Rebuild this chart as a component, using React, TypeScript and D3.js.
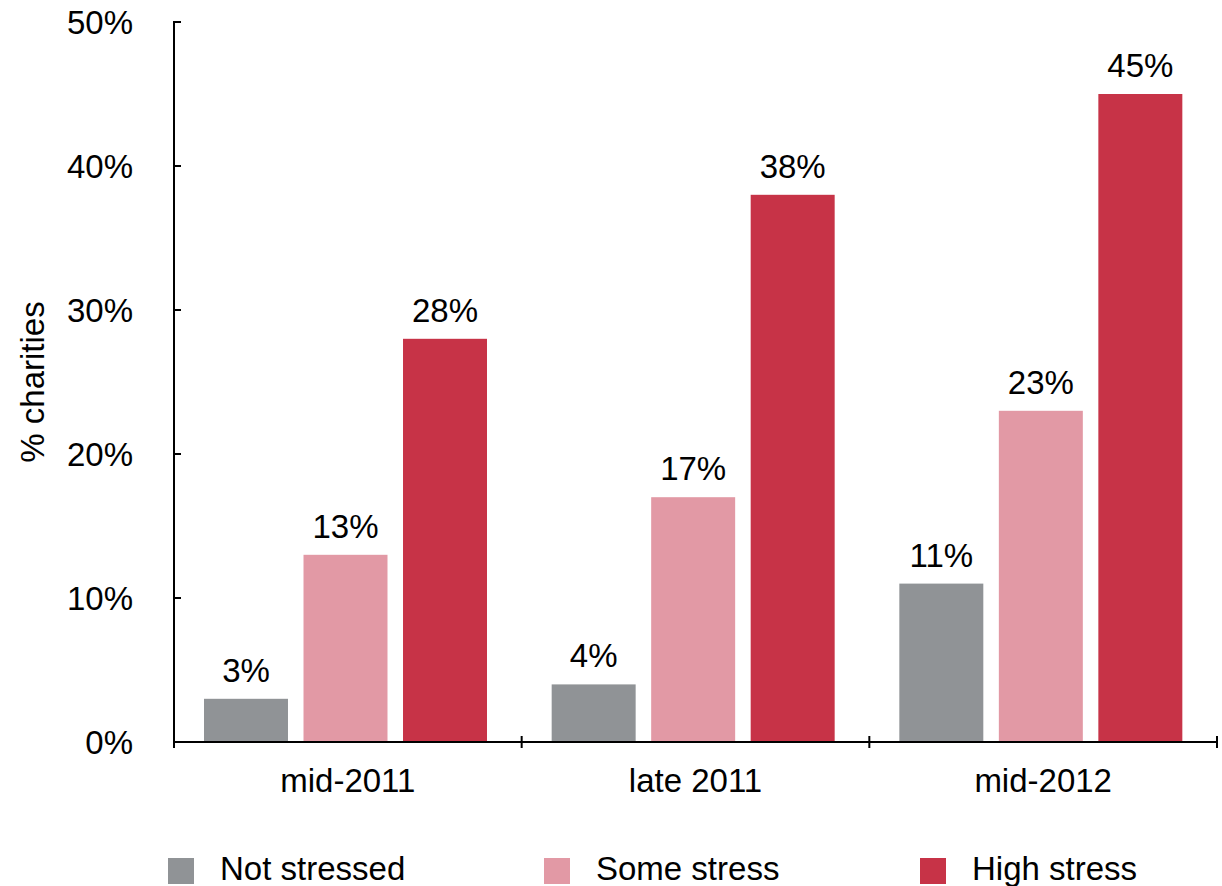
import React from "react";
import * as d3 from "d3";

const categories = ["mid-2011", "late 2011", "mid-2012"];
const seriesNames = ["Not stressed", "Some stress", "High stress"];
const notStressed = [3, 4, 11];
const someStress = [13, 17, 23];
const highStress = [28, 38, 45];
const yTicks = [0, 10, 20, 30, 40, 50];
const colors = ["#909396", "#e299a5", "#c73347"];

const W = 1222;
const H = 886;
const FONT = "'Liberation Sans', Arial, Helvetica, sans-serif";
const FS = 33;

export default function App() {
  const seriesValues = [notStressed, someStress, highStress];
  const x0 = d3.scaleBand<string>().domain(categories).range([174, 1217]).padding(0);
  const x1 = d3
    .scaleBand<string>()
    .domain(seriesNames)
    .range([30, 313])
    .paddingInner(0.156)
    .paddingOuter(0);
  const y = d3.scaleLinear().domain([0, 50]).range([742, 22]);
  const xTickPositions = [...categories.map((c) => x0(c)!), x0.range()[1]];
  const legendX = d3.scalePoint<string>().domain(seriesNames).range([168, 920]);

  return (
    <svg
      width={W}
      height={H}
      style={{ position: "absolute", left: 0, top: 0, background: "#fff" }}
      fontFamily={FONT}
    >
      {/* bars */}
      {categories.map((c, ci) => (
        <g key={c}>
          {seriesNames.map((s, si) => {
            const v = seriesValues[si][ci];
            const bx = x0(c)! + x1(s)!;
            return (
              <g key={s}>
                <rect x={bx} y={y(v)} width={x1.bandwidth()} height={y(0) - y(v)} fill={colors[si]} />
                <text
                  x={bx + x1.bandwidth() / 2}
                  y={y(v) - 17}
                  textAnchor="middle"
                  fontSize={FS}
                  fill="#000"
                >
                  {v}%
                </text>
              </g>
            );
          })}
        </g>
      ))}

      {/* y axis */}
      <line x1={174} x2={174} y1={y(50) - 1} y2={y(0) + 1} stroke="#000" strokeWidth={2} />
      {yTicks.map((t) => (
        <g key={t}>
          <line x1={174} x2={181} y1={y(t)} y2={y(t)} stroke="#000" strokeWidth={2} />
          <text x={133} y={y(t)} dy="0.36em" textAnchor="end" fontSize={FS} fill="#000">
            {t}%
          </text>
        </g>
      ))}
      <text
        transform={`translate(44, ${382}) rotate(-90)`}
        textAnchor="middle"
        fontSize={FS}
        fill="#000"
      >
        % charities
      </text>

      {/* x axis */}
      <line x1={173} x2={1218} y1={y(0)} y2={y(0)} stroke="#000" strokeWidth={2} />
      {xTickPositions.map((p, i) => (
        <line key={i} x1={p} x2={p} y1={y(0) - 6} y2={y(0) + 6} stroke="#000" strokeWidth={2} />
      ))}
      {categories.map((c) => (
        <text
          key={c}
          x={x0(c)! + x0.bandwidth() / 2}
          y={792}
          textAnchor="middle"
          fontSize={FS}
          fill="#000"
        >
          {c}
        </text>
      ))}

      {/* legend */}
      {seriesNames.map((s, i) => (
        <g key={s}>
          <rect x={legendX(s)!} y={858} width={26} height={26} fill={colors[i]} />
          <text x={legendX(s)! + 52} y={880} fontSize={FS} fill="#000">
            {s}
          </text>
        </g>
      ))}
    </svg>
  );
}
